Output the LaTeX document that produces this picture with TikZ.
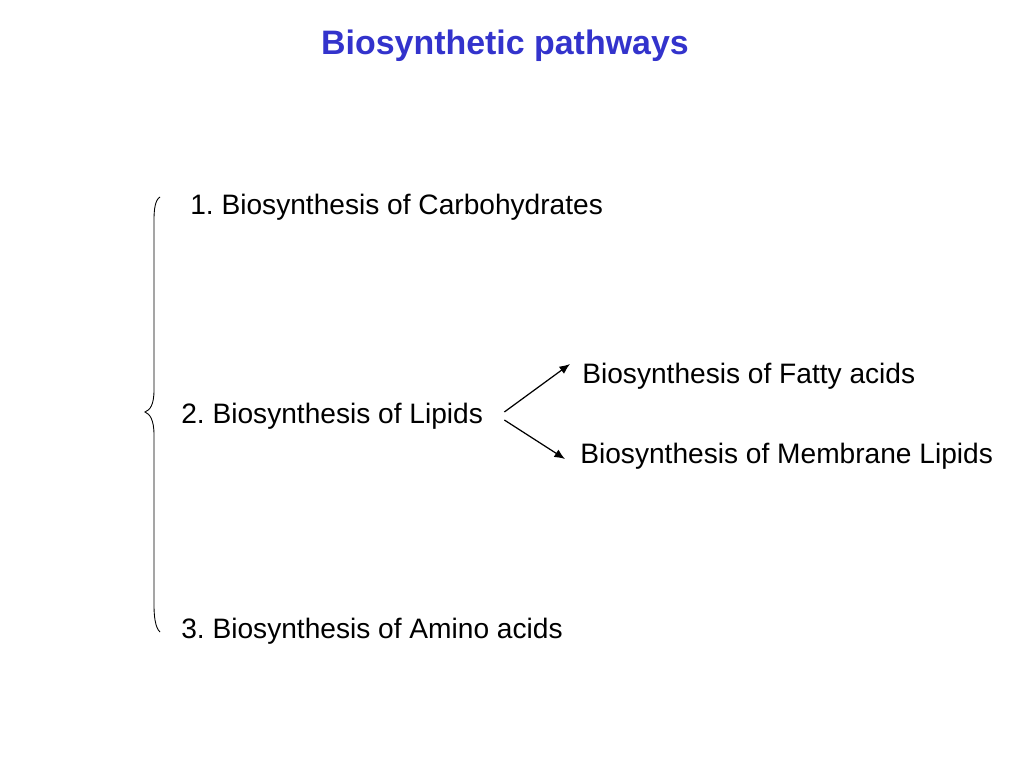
\documentclass[tikz,border=0pt]{standalone}
\usepackage{fontspec}
\setmainfont{Liberation Sans}
\usetikzlibrary{arrows.meta}
\definecolor{titleblue}{RGB}{51,51,204}
\frenchspacing
\tikzset{
  item/.style={anchor=west, inner sep=0pt, font=\fontsize{16}{19}\selectfont},
  branch/.style={-{Latex[length=6pt,width=5pt]}, line width=0.7pt}
}
\begin{document}
\begin{tikzpicture}
        \useasboundingbox (0,0) rectangle (20.48,-15.36);

        % Coordinates
        \coordinate (T) at (3.20,-3.94);
        \coordinate (M) at (2.90,-8.24);
        \coordinate (U) at (3.20,-12.64);

        % Title
        \node[font=\fontsize{19.3}{23}\selectfont\bfseries, text=titleblue] (title) at (10.10,-0.92) {Biosynthetic pathways};

        % Labels
        \node[item] (carb) at (3.80,-4.14) {1. Biosynthesis of Carbohydrates};
        \node[item] (lipids) at (3.62,-8.32) {2. Biosynthesis of Lipids};
        \node[item] (fatty) at (11.64,-7.52) {Biosynthesis of Fatty acids};
        \node[item] (membrane) at (11.60,-9.12) {Biosynthesis of Membrane Lipids};
        \node[item] (amino) at (3.62,-12.62) {3. Biosynthesis of Amino acids};

        % Brace
        \draw[line width=0.5pt] (T) .. controls (3.10,-4.00) and (3.08,-4.20) .. (3.08,-4.40)
            -- (3.08,-7.80) .. controls (3.08,-8.10) and (3.00,-8.20) .. (M)
            .. controls (3.00,-8.28) and (3.08,-8.40) .. (3.08,-8.70)
            -- (3.08,-12.10) .. controls (3.08,-12.30) and (3.10,-12.55) .. (U);

        % Arrows
        \draw[branch] ([xshift=0.42cm,yshift=0.08cm]lipids.east) -- ([xshift=-0.24cm,yshift=0.24cm]fatty.west);
        \draw[branch] ([xshift=0.42cm,yshift=-0.08cm]lipids.east) -- ([xshift=-0.30cm,yshift=-0.06cm]membrane.west);
    \end{tikzpicture}
\end{document}
